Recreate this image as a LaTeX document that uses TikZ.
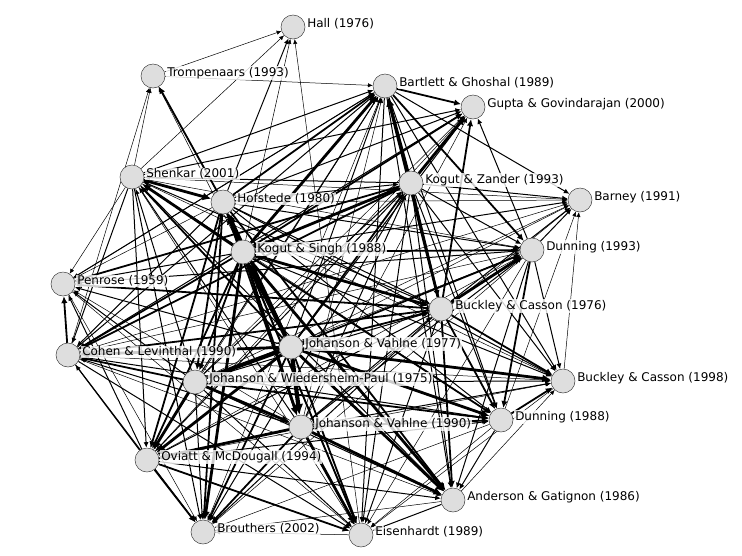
\documentclass[tikz,border=0pt]{standalone}
\usepackage{fontspec}
\setmainfont{DejaVu Sans}
\usetikzlibrary{arrows.meta,positioning}
\pgfdeclarelayer{bg}
\pgfsetlayers{bg,main}
\tikzset{
 dot/.style={circle, draw=black!75, line width=0.5pt, fill=black!13, minimum size=24pt, inner sep=0pt},
 lbl/.style={font=\fontsize{12}{14}\selectfont, fill=white, fill opacity=0.8, text opacity=1, inner sep=0.8pt},
 edge/.style={draw=black, -{Latex[length=4pt 1.6, width=3.5pt 1.6]}},
 w1/.style={line width=0.5pt},
 w2/.style={line width=1.0pt},
 w3/.style={line width=1.8pt},
 w4/.style={line width=2.8pt},
 w5/.style={line width=4.2pt}
}
\begin{document}
\begin{tikzpicture}[x=1pt,y=-1pt]
\useasboundingbox (0,0) rectangle (742,555);
\node[dot] (hall)  at (293,27)  {};
\node[dot] (tromp) at (153,76)  {};
\node[dot] (bart)  at (385,86)  {};
\node[dot] (gupta) at (473,107) {};
\node[dot] (shen)  at (132,177) {};
\node[dot] (hof)   at (223,202) {};
\node[dot] (kz)    at (411,183) {};
\node[dot] (barn)  at (580,200) {};
\node[dot] (ks)    at (243,252) {};
\node[dot] (dun93) at (532,250) {};
\node[dot] (pen)   at (63,284)  {};
\node[dot] (bc76)  at (441,309) {};
\node[dot] (jv77)  at (291,347) {};
\node[dot] (coh)   at (68,355)  {};
\node[dot] (jwp)   at (195,382) {};
\node[dot] (bc98)  at (563,381) {};
\node[dot] (dun88) at (501,420) {};
\node[dot] (jv90)  at (301,427) {};
\node[dot] (ovi)   at (147,460) {};
\node[dot] (ag)    at (453,500) {};
\node[dot] (brou)  at (203,532) {};
\node[dot] (eis)   at (361,535) {};
\begin{pgfonlayer}{bg}
\foreach \a/\b/\w in {
 jv77/ks/w5, jv77/hof/w4, jv77/jwp/w5, jv77/jv90/w5, jv77/kz/w3, jv77/bc76/w3, jv77/shen/w3, jv77/ovi/w4, jv77/coh/w4, jv77/bart/w2, jv77/dun93/w3, jv77/dun88/w4, jv77/ag/w4, jv77/bc98/w4, jv77/pen/w2, jv77/eis/w3, jv77/brou/w3, jv77/gupta/w2, jv77/barn/w1,
 ks/hof/w5, ks/jwp/w3, ks/jv90/w4, ks/kz/w4, ks/bc76/w4, ks/shen/w4, ks/ovi/w3, ks/coh/w3, ks/bart/w4, ks/dun93/w3, ks/dun88/w3, ks/ag/w4, ks/bc98/w2, ks/pen/w2, ks/eis/w3, ks/brou/w4, ks/gupta/w3, ks/barn/w2, ks/tromp/w1, ks/hall/w1,
 hof/jwp/w3, hof/jv90/w3, hof/kz/w2, hof/bc76/w2, shen/hof/w4, hof/ovi/w3, hof/coh/w2, hof/bart/w3, hof/dun93/w2, hof/dun88/w2, hof/ag/w3, hof/bc98/w2, hof/pen/w1, hof/eis/w2, hof/brou/w3, hof/gupta/w2, hof/barn/w1, hof/tromp/w3, hof/hall/w2,
 jwp/jv90/w4, jwp/kz/w2, jwp/bc76/w2, jwp/shen/w2, jwp/ovi/w4, jwp/coh/w3, jwp/bart/w2, jwp/dun93/w1, jwp/dun88/w3, jwp/ag/w2, jwp/bc98/w2, jwp/pen/w2, jwp/eis/w2, jwp/brou/w2, jwp/gupta/w1, jwp/barn/w1,
 jv90/kz/w2, jv90/bc76/w2, jv90/shen/w2, jv90/ovi/w4, jv90/coh/w2, jv90/bart/w1, jv90/dun93/w2, jv90/dun88/w3, jv90/ag/w4, jv90/bc98/w2, jv90/pen/w1, jv90/eis/w4, jv90/brou/w3, jv90/gupta/w1, jv90/barn/w1,
 kz/bc76/w3, kz/shen/w2, kz/ovi/w2, kz/coh/w3, kz/bart/w4, kz/dun93/w2, kz/dun88/w2, kz/ag/w2, kz/bc98/w2, kz/pen/w3, kz/eis/w2, kz/brou/w2, kz/gupta/w4, kz/barn/w2,
 bc76/shen/w2, bc76/ovi/w2, bc76/coh/w3, bc76/bart/w4, bc76/dun93/w4, bc76/dun88/w3, bc76/ag/w3, bc76/bc98/w3, bc76/pen/w3, bc76/eis/w2, bc76/brou/w2, bc76/gupta/w3, bc76/barn/w2,
 shen/ovi/w2, shen/coh/w2, shen/bart/w2, shen/dun93/w1, shen/dun88/w1, shen/ag/w2, shen/bc98/w1, shen/pen/w1, shen/eis/w1, shen/brou/w2, shen/gupta/w2, shen/barn/w1, shen/tromp/w1, shen/hall/w1,
 ovi/coh/w2, ovi/bart/w1, ovi/dun93/w1, ovi/dun88/w2, ovi/ag/w2, ovi/bc98/w1, ovi/pen/w2, ovi/eis/w3, ovi/brou/w3, ovi/gupta/w1,
 coh/bart/w2, coh/dun93/w1, coh/dun88/w2, coh/ag/w1, coh/bc98/w1, coh/pen/w3, coh/eis/w2, coh/brou/w2, coh/gupta/w2, coh/barn/w1, coh/tromp/w1,
 bart/dun93/w3, bart/dun88/w2, bart/ag/w2, bart/bc98/w2, bart/pen/w1, bart/eis/w2, bart/brou/w1, bart/gupta/w3, bart/barn/w2,
 dun93/dun88/w3, dun93/ag/w2, dun93/bc98/w2, dun93/pen/w2, dun93/eis/w1, dun93/brou/w1, dun93/gupta/w2, dun93/barn/w2,
 dun88/ag/w2, dun88/bc98/w3, dun88/eis/w1, dun88/brou/w1, dun88/barn/w1,
 ag/bc98/w1, ag/eis/w2, ag/brou/w1, bc98/eis/w1, bc98/barn/w1,
 pen/eis/w1, pen/brou/w1, pen/bart/w2, eis/brou/w1, eis/hall/w1, tromp/bart/w1, tromp/hall/w1}
 \draw[edge,\w] (\a) -- (\b);
\end{pgfonlayer}
\node[lbl, right=1pt of hall,  yshift=3pt] (hall-l)  {Hall (1976)};
\node[lbl, right=1pt of tromp, yshift=3pt] (tromp-l) {Trompenaars (1993)};
\node[lbl, right=1pt of bart,  yshift=3pt] (bart-l)  {Bartlett \& Ghoshal (1989)};
\node[lbl, right=1pt of gupta, yshift=3pt] (gupta-l) {Gupta \& Govindarajan (2000)};
\node[lbl, right=1pt of shen,  yshift=3pt] (shen-l)  {Shenkar (2001)};
\node[lbl, right=1pt of hof,   yshift=3pt] (hof-l)   {Hofstede (1980)};
\node[lbl, right=1pt of kz,    yshift=3pt] (kz-l)    {Kogut \& Zander (1993)};
\node[lbl, right=1pt of barn,  yshift=3pt] (barn-l)  {Barney (1991)};
\node[lbl, right=1pt of ks,    yshift=3pt] (ks-l)    {Kogut \& Singh (1988)};
\node[lbl, right=1pt of dun93, yshift=3pt] (dun93-l) {Dunning (1993)};
\node[lbl, right=1pt of pen,   yshift=3pt] (pen-l)   {Penrose (1959)};
\node[lbl, right=1pt of bc76,  yshift=3pt] (bc76-l)  {Buckley \& Casson (1976)};
\node[lbl, right=1pt of jv77,  yshift=3pt] (jv77-l)  {Johanson \& Vahlne (1977)};
\node[lbl, right=1pt of coh,   yshift=3pt] (coh-l)   {Cohen \& Levinthal (1990)};
\node[lbl, right=1pt of jwp,   yshift=3pt] (jwp-l)   {Johanson \& Wiedersheim-Paul (1975)};
\node[lbl, right=1pt of bc98,  yshift=3pt] (bc98-l)  {Buckley \& Casson (1998)};
\node[lbl, right=1pt of dun88, yshift=3pt] (dun88-l) {Dunning (1988)};
\node[lbl, right=1pt of jv90,  yshift=3pt] (jv90-l)  {Johanson \& Vahlne (1990)};
\node[lbl, right=1pt of ovi,   yshift=3pt] (ovi-l)   {Oviatt \& McDougall (1994)};
\node[lbl, right=1pt of ag,    yshift=3pt] (ag-l)    {Anderson \& Gatignon (1986)};
\node[lbl, right=1pt of brou,  yshift=3pt] (brou-l)  {Brouthers (2002)};
\node[lbl, right=1pt of eis,   yshift=3pt] (eis-l)   {Eisenhardt (1989)};
\end{tikzpicture}
\end{document}
